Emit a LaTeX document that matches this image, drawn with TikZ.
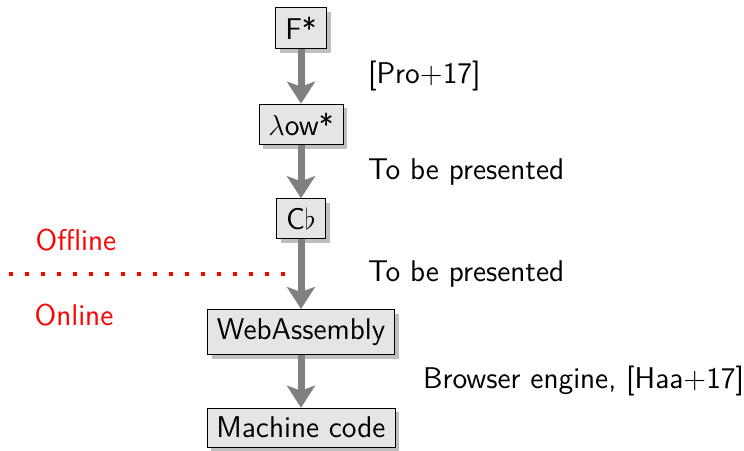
\documentclass[tikz,border=0pt]{standalone}
\usepackage{tikz}
\usetikzlibrary{positioning,shadows,arrows.meta}
\begin{document}
\begin{tikzpicture}[>={Stealth[length=11pt,width=14pt,inset=2.5pt]},
  font=\fontsize{15}{18}\selectfont\sffamily, node distance=27.5pt,
  stage/.style={draw=black, fill=black!10, drop shadow,
    inner xsep=4.75pt, inner ysep=4.5pt},
  flow/.style={->, gray, line width=3.5pt},
  note/.style={right},
  phase/.style={red}]

\useasboundingbox (-150.5pt,-211pt) rectangle (221.5pt,14pt);

%--- Этапы компиляции ---
\node[stage] (fstar) at (0,0) {F*};
\node[stage, below=of fstar] (lowstar) {$\lambda$ow*};
\node[stage, below=26.5pt of lowstar] (cflat) {C$\flat$};
\node[stage, below=35pt of cflat] (wasm) {WebAssembly};
\node[stage, below=26.5pt of wasm] (mcode) {Machine code};

%--- Стрелки ---
\draw[flow] (fstar) -- coordinate (m1) (lowstar);
\draw[flow] (lowstar) -- coordinate (m2) (cflat);
\draw[flow] (cflat) -- coordinate (m3) (wasm);
\draw[flow] (wasm) -- coordinate (m4) (mcode);

%--- Подписи переходов ---
\node[note, xshift=30pt] (pro) at (m1) {[Pro+17]};
\node[note, xshift=30pt] (tbp1) at (m2) {To be presented};
\node[note, xshift=30pt] (tbp2) at (m3) {To be presented};
\node[note, xshift=57.5pt] (haa) at (m4) {Browser engine, [Haa+17]};

%--- Граница offline / online ---
\coordinate (dotl) at ([xshift=-146pt]m3);
\coordinate (dotr) at ([xshift=-4pt]m3);
\draw[red, line width=2pt, dash pattern=on 2pt off 6pt] (dotl) -- (dotr);
\node[phase] (offline) at ([xshift=-112.5pt, yshift=17pt]m3) {Offline};
\node[phase] (online) at ([xshift=-113.5pt, yshift=-20.5pt]m3) {Online};

\end{tikzpicture}
\end{document}
